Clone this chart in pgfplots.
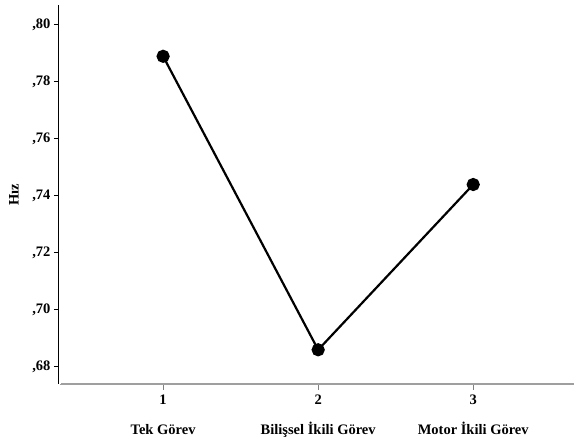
\documentclass[border=0pt]{standalone}
\usepackage{fontspec}
\setmainfont{Liberation Serif}
\usepackage{pgfplots}
\pgfplotsset{compat=1.18}
\begin{document}
\begin{tikzpicture}[x=1pt,y=1pt]
\useasboundingbox (0,0) rectangle (574,441);
\begin{axis}[
  at={(60pt,57pt)}, anchor=south west,
  scale only axis, width=514pt, height=379pt,
  xmin=0.335, xmax=3.65, ymin=0.674, ymax=0.807,
  axis x line*=bottom, axis y line*=left,
  x axis line style={draw=gray!75, line width=2.6pt, -},
  y axis line style={draw=black, line width=0.9pt, double, double distance=1.2pt, -},
  xtick={1,2,3},
  xticklabels={{1\\[14pt]Tek Görev},{2\\[14pt]Bilişsel İkili Görev},{3\\[14pt]Motor İkili Görev}},
  xticklabel style={align=center, font=\fontsize{14.5}{16}\selectfont\bfseries, yshift=-1pt},
  ytick={0.68,0.70,0.72,0.74,0.76,0.78,0.80},
  yticklabels={{,68},{,70},{,72},{,74},{,76},{,78},{,80}},
  yticklabel style={font=\fontsize{14.5}{16}\selectfont\bfseries, xshift=0pt},
  tick align=outside, major tick length=6pt,
  x tick style={draw=gray, line width=0.9pt},
  y tick style={draw=black, line width=0.9pt},
  ylabel={Hız},
  ylabel style={font=\fontsize{14.5}{16}\selectfont\bfseries, at={(axis description cs:-0.0895,0.5)}, anchor=center},
  clip=false,
]
\addplot[black, line width=2.2pt, mark=*, mark size=5.5pt, mark options={fill=black}]
  coordinates {(1,0.789) (2,0.686) (3,0.744)};
\end{axis}
\end{tikzpicture}
\end{document}
